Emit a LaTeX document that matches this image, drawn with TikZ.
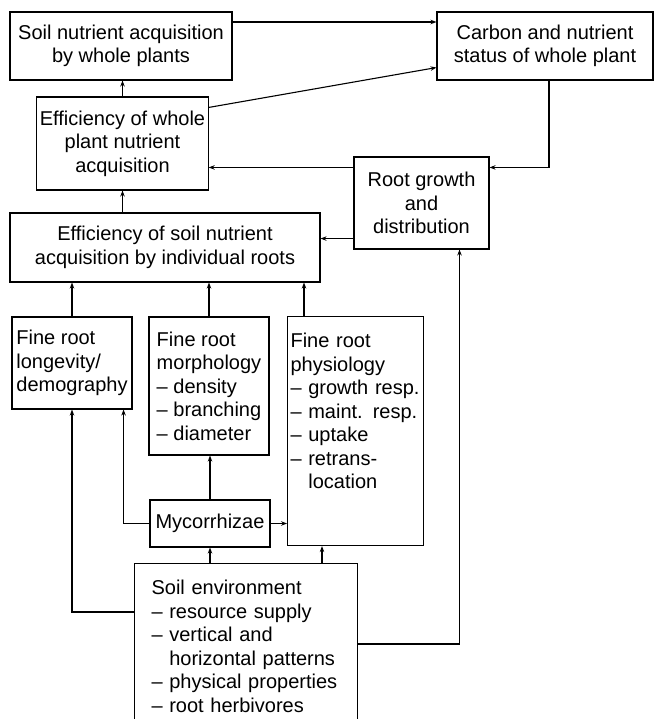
\documentclass[tikz,border=0pt]{standalone}
\usepackage{fontspec}
\setmainfont{Liberation Sans}
\usetikzlibrary{arrows.meta, positioning}

\begin{document}
\begin{tikzpicture}[>={Stealth[length=6pt,width=4.5pt]}, line width=1.1pt, x=1pt, y=-1pt,
  every node/.style={font=\fontsize{20}{23.5}\selectfont},
  box/.style={draw, inner sep=3pt, align=center},
  listbox/.style={draw, inner xsep=3pt, inner ysep=0pt, align=left, anchor=north west, text height=31pt}]
  \useasboundingbox (0,0) rectangle (655,719);
  % Whole plant level
  \node[box, minimum width=222pt, minimum height=68pt] (uptake) at (121,46) {Soil nutrient acquisition\\by whole plants};
  \node[box, minimum width=216pt, minimum height=68pt] (status) at (545,46) {Carbon and nutrient\\status of whole plant};
  \node[box, minimum width=171pt, minimum height=93pt] (wholeeff) at (122.5,143.5) {Efficiency of whole\\plant nutrient\\acquisition};
  \node[box, minimum width=135pt, minimum height=92pt] (growth) at (421.5,203) {Root growth\\and\\distribution};
  \node[box, minimum width=310pt, minimum height=69pt] (rooteff) at (165,247.5) {Efficiency of soil nutrient\\acquisition by individual roots};
  % Fine roots
  \node[box, align=left, minimum width=120pt, minimum height=92pt] (longev) at (72,363) {Fine root\\longevity/\\demography};
  \node[box, align=left, minimum width=120pt, minimum height=138pt] (morph) at (209,386) {Fine root\\morphology\\–~density\\–~branching\\–~diameter};
  \node[listbox, text width=130pt, text depth=198pt] (phys) at (287,316) {Fine root\\physiology\\\mbox{–~growth resp.}\\\mbox{–~maint. resp.}\\\mbox{–~uptake}\\\mbox{–~retrans-}\\\phantom{–~}location};
  \node[box, minimum width=120pt, minimum height=47pt] (myco) at (210,523.5) {Mycorrhizae};
  % Soil
  \node[listbox, inner xsep=17pt, text width=189pt, text depth=126pt] (soil) at (134,563) {Soil environment\\\mbox{–~resource supply}\\\mbox{–~vertical and}\\\phantom{–~}horizontal~patterns\\\mbox{–~physical properties}\\\mbox{–~root herbivores}};
  % Helper points
  \coordinate (upout) at ([yshift=24pt]uptake.east);
  \coordinate (effout) at ([yshift=-11pt]wholeeff.north east);
  \coordinate (statin) at ([yshift=13pt]status.south west);
  \coordinate (statout) at ([xshift=4pt]status.south);
  \coordinate (grin) at ([yshift=-11pt]growth.north east);
  \coordinate (grout) at ([yshift=-11pt]growth.north west);
  \coordinate (grlow) at ([yshift=11pt]growth.south west);
  \coordinate (grbot) at ([xshift=38pt]growth.south);
  \coordinate (physup) at ([xshift=17pt]phys.north west);
  \coordinate (physin) at ([xshift=35pt]phys.south west);
  \coordinate (longin) at ([xshift=-9pt]longev.south east);
  \coordinate (soilw) at ([yshift=-49pt]soil.north west);
  \coordinate (soile) at ([yshift=-81pt]soil.north east);
  % Arrows
  \draw[->] (upout) -- (upout -| status.west);
  \draw[->] (wholeeff.north) -- (wholeeff.north |- uptake.south);
  \draw[->] (effout) -- (statin);
  \draw[->] (statout) |- (grin);
  \draw[->] (grout) -- (grout -| wholeeff.east);
  \draw[->] (grlow) -- (grlow -| rooteff.east);
  \draw[->] (wholeeff.south |- rooteff.north) -- (wholeeff.south);
  \draw[->] (longev.north) -- (longev.north |- rooteff.south);
  \draw[->] (morph.north) -- (morph.north |- rooteff.south);
  \draw[->] (physup) -- (physup |- rooteff.south);
  \draw[->] (myco.north) -- (myco.north |- morph.south);
  \draw[->] (myco.west) -| (longin);
  \draw[->] (myco.east) -- (myco.east -| phys.west);
  \draw[->] (myco.south |- soil.north) -- (myco.south);
  \draw[->] (physin |- soil.north) -- (physin);
  \draw[->] (soilw) -| (longev.south);
  \draw[->] (soile) -| (grbot);
\end{tikzpicture}
\end{document}
